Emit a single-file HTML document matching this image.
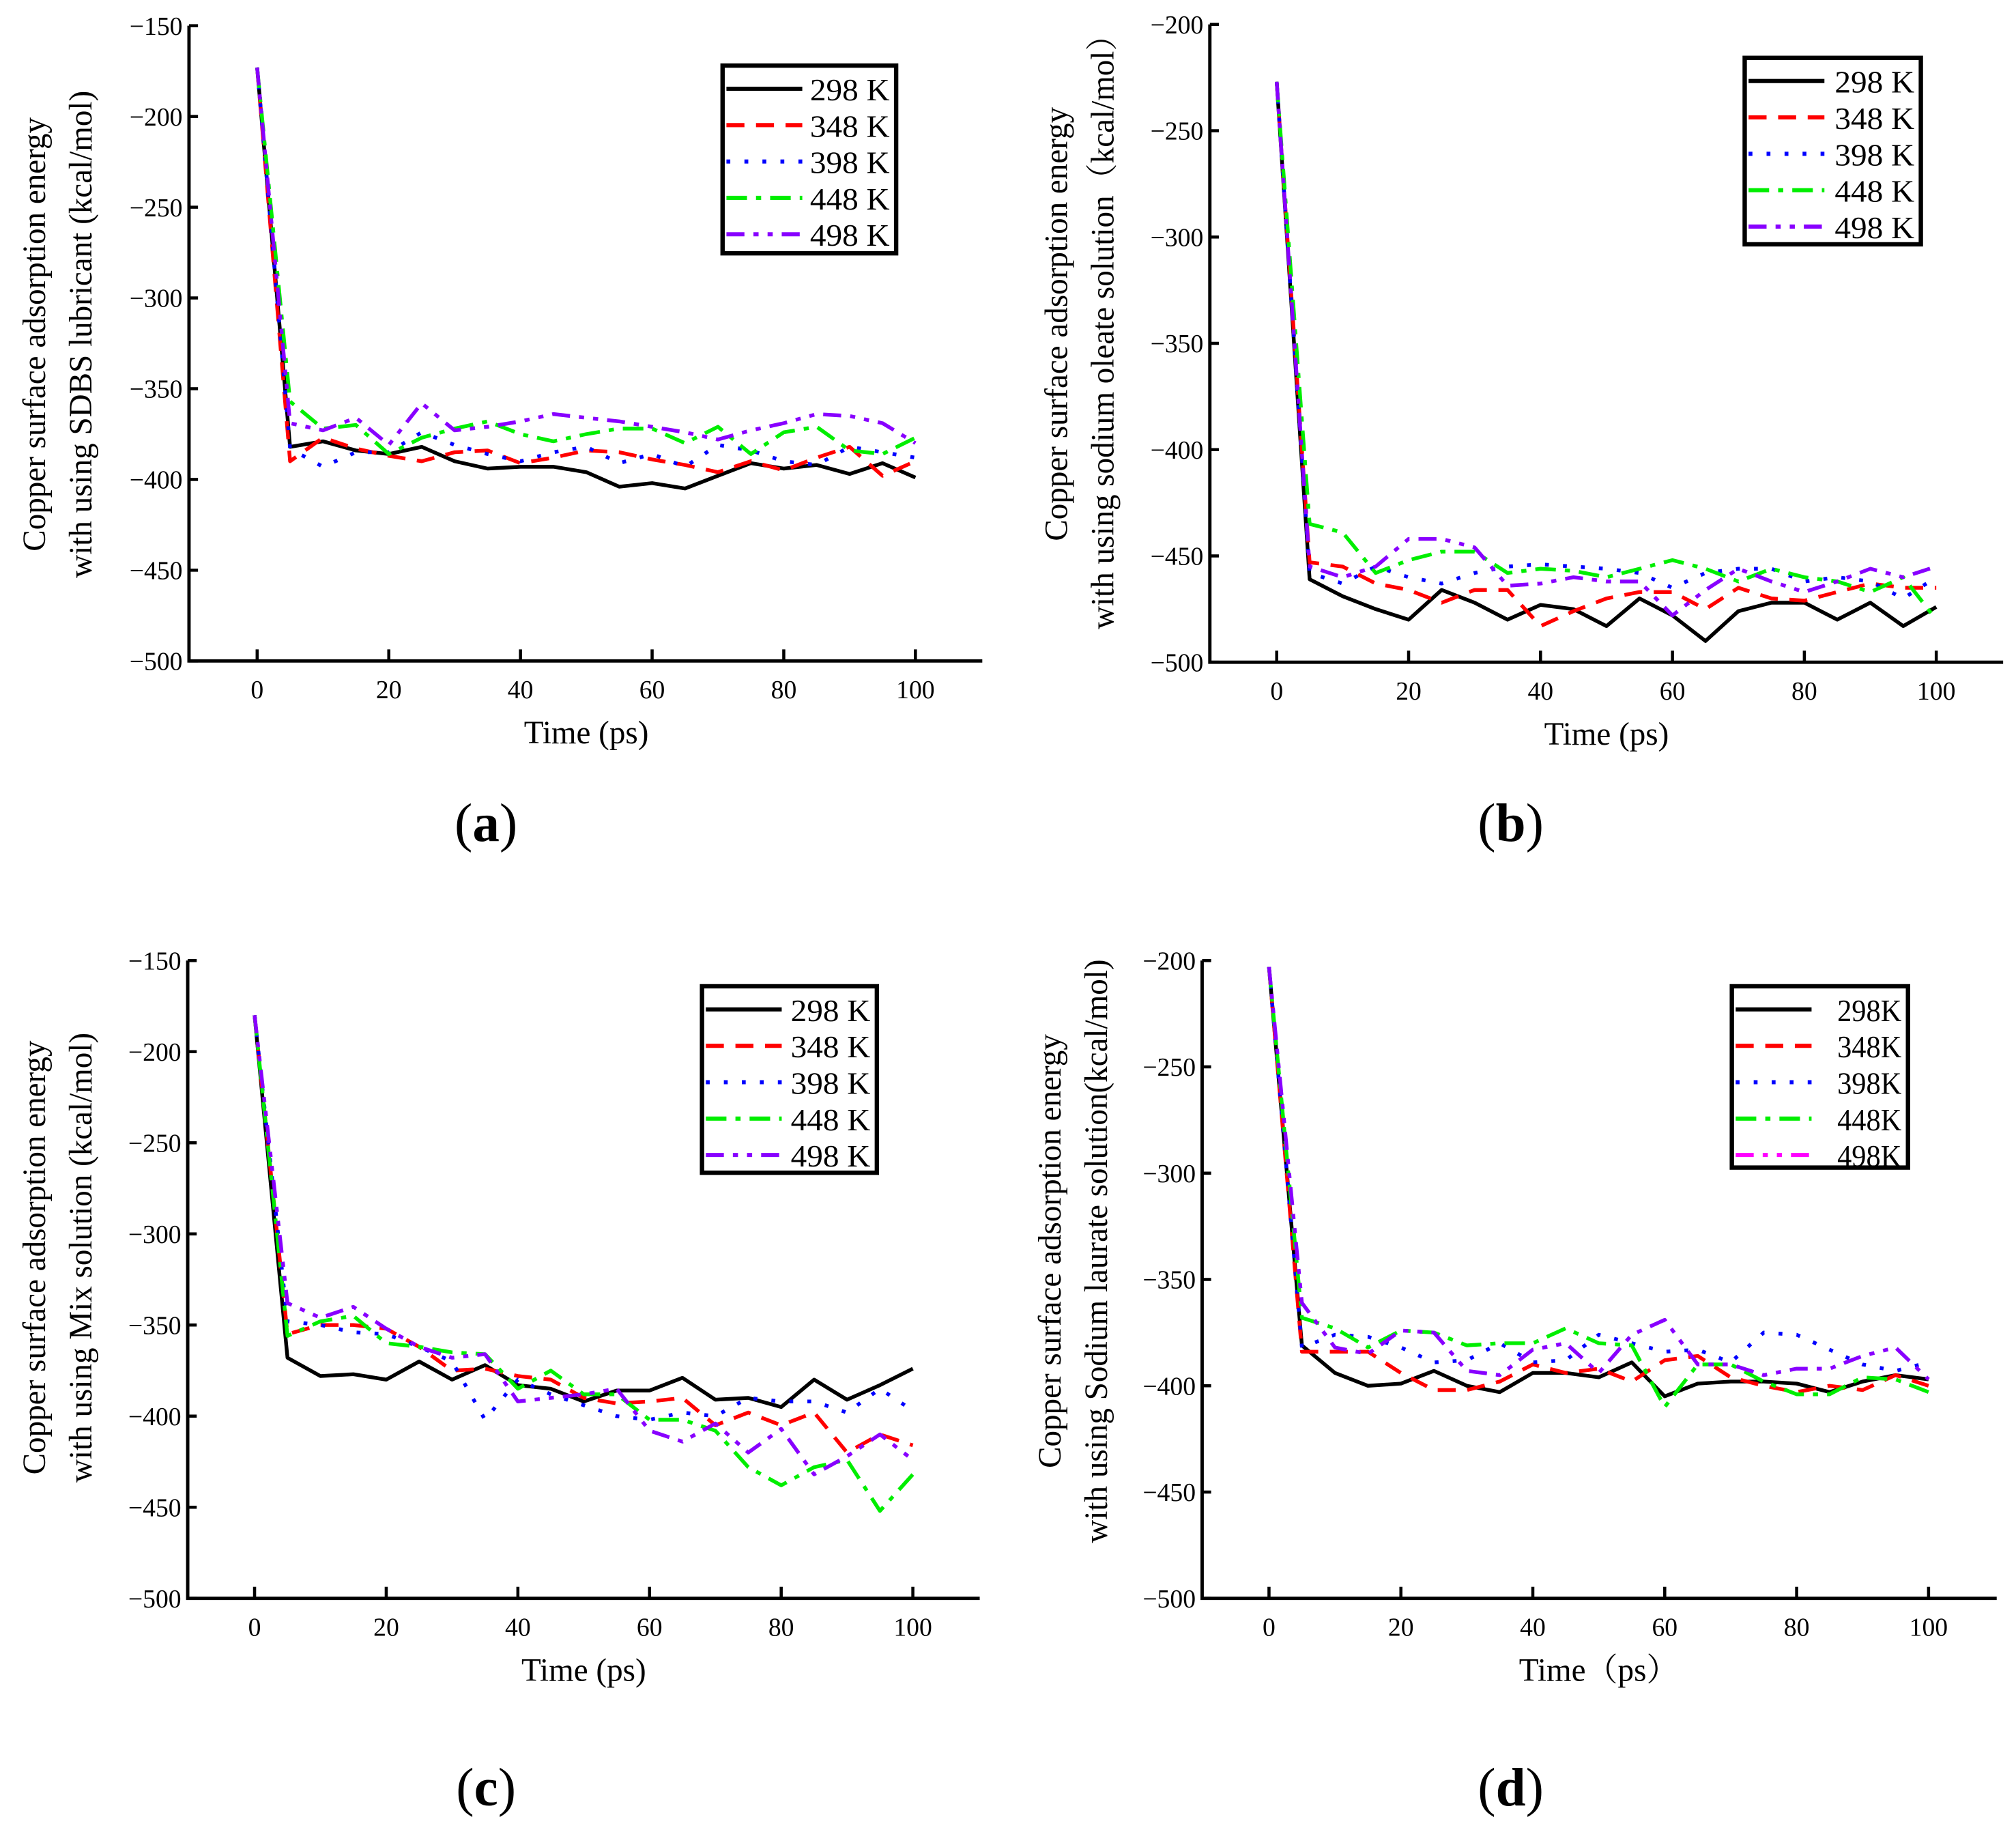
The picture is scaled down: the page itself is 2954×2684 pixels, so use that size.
<!DOCTYPE html>
<html><head><meta charset="utf-8"><style>
html,body{margin:0;padding:0;background:#fff}
svg{display:block}
text{font-family:"Liberation Serif","Noto Serif CJK SC",serif;fill:#000}
</style></head><body>
<svg id="fig" width="2954" height="2684" viewBox="0 0 1568 1424.7" xmlns="http://www.w3.org/2000/svg"></svg>
<script>
const times=[0,5,10,15,20,25,30,35,40,45,50,55,60,65,70,75,80,85,90,95,100];
const xTicks=[0,20,40,60,80,100];
const yTicksA=[-150,-200,-250,-300,-350,-400,-450,-500];
const yTicksB=[-200,-250,-300,-350,-400,-450,-500];
const legendA=["298 K","348 K","398 K","448 K","498 K"];
const legendD=["298K","348K","398K","448K","498K"];
const a298=[-173,-382,-379,-384,-386,-382,-390,-394,-393,-393,-396,-404,-402,-405,-398,-391,-394,-392,-397,-391,-399];
const a348=[-173,-390,-377,-383,-387,-390,-385,-384,-391,-388,-384,-385,-389,-392,-396,-390,-395,-388,-382,-398,-390];
const a398=[-173,-383,-393,-385,-385,-374,-381,-386,-390,-385,-382,-391,-386,-393,-381,-384,-390,-392,-382,-385,-388];
const a448=[-173,-357,-372,-370,-386,-377,-372,-368,-375,-379,-375,-372,-372,-380,-371,-386,-374,-371,-384,-386,-377];
const a498=[-173,-369,-373,-366,-381,-358,-373,-371,-368,-364,-366,-368,-371,-374,-378,-373,-369,-364,-365,-369,-380];
const b298=[-227,-461,-469,-475,-480,-466,-472,-480,-473,-475,-483,-470,-478,-490,-476,-472,-472,-480,-472,-483,-474];
const b348=[-227,-453,-455,-463,-466,-472,-466,-466,-483,-476,-470,-467,-467,-475,-465,-470,-471,-467,-463,-465,-465];
const b398=[-227,-458,-463,-455,-460,-463,-458,-455,-454,-455,-456,-458,-465,-458,-456,-456,-462,-460,-462,-470,-460];
const b448=[-227,-435,-439,-458,-452,-448,-448,-458,-456,-457,-460,-456,-452,-456,-462,-456,-460,-462,-467,-460,-480];
const b498=[-227,-455,-460,-455,-442,-442,-446,-464,-463,-460,-462,-462,-478,-466,-456,-462,-467,-462,-456,-460,-455];
const c298=[-180,-368,-378,-377,-380,-370,-380,-372,-383,-385,-392,-386,-386,-379,-391,-390,-395,-380,-391,-383,-374];
const c348=[-180,-355,-350,-350,-352,-362,-375,-374,-378,-380,-390,-393,-392,-390,-405,-398,-405,-398,-420,-410,-416];
const c398=[-180,-348,-350,-354,-355,-362,-370,-402,-380,-388,-394,-400,-402,-398,-400,-390,-392,-392,-398,-385,-397];
const c448=[-180,-356,-348,-345,-360,-362,-365,-366,-385,-375,-388,-388,-402,-402,-408,-428,-438,-428,-424,-452,-432];
const c498=[-180,-338,-346,-340,-352,-362,-368,-366,-392,-390,-388,-385,-408,-414,-404,-420,-407,-432,-422,-410,-424];
const d298=[-203,-381,-394,-400,-399,-393,-400,-403,-394,-394,-396,-389,-405,-399,-398,-398,-399,-403,-398,-395,-397];
const d348=[-203,-384,-384,-384,-394,-402,-402,-398,-390,-394,-392,-398,-388,-386,-396,-400,-403,-400,-402,-395,-400];
const d398=[-203,-382,-376,-377,-382,-389,-388,-380,-389,-388,-376,-380,-384,-383,-389,-375,-376,-383,-390,-393,-389];
const d448=[-203,-368,-373,-382,-374,-375,-381,-380,-380,-373,-380,-381,-410,-390,-390,-398,-404,-404,-396,-397,-403];
const d498=[-203,-361,-382,-385,-374,-375,-393,-395,-383,-380,-394,-376,-369,-390,-390,-395,-392,-392,-386,-382,-397];

const NS="http://www.w3.org/2000/svg";
const svg=document.getElementById('fig');
function mk(tag,attrs,parent){const e=document.createElementNS(NS,tag);for(const k in attrs)e.setAttribute(k,attrs[k]);(parent||svg).appendChild(e);return e;}
const styles=[
 {c:"#000",d:""},
 {c:"#ff0000",d:"14 9"},
 {c:"#0000ff",d:"3 11"},
 {c:"#00ee00",d:"16 7 4 7"},
 {c:"#8800ff",d:"14 7 4 7 4 7"}];

function panel(cfg){
  const g=mk('g',{});
  
  
  const x=t=>cfg.x0+(t-0)/100*(cfg.x100-cfg.x0);
  const y=v=>cfg.yTop+(v-cfg.vTop)/(-500-cfg.vTop)*(cfg.yBot-cfg.yTop);
  const ax=mk('path',{d:`M${cfg.ax} ${cfg.yTop} V${cfg.yBot} H${cfg.axEnd}`,fill:'none',stroke:'#000','stroke-width':2.6},g);
  
  
  cfg.yTicks.forEach(v=>{
    mk('line',{x1:cfg.ax,x2:cfg.ax+7,y1:y(v),y2:y(v),stroke:'#000','stroke-width':2.4},g);
    const t=mk('text',{x:cfg.ax-5,y:y(v)+7,'text-anchor':'end','font-size':20},g);
    t.textContent='\u2212'+Math.abs(v);
    
    
  });
  xTicks.forEach(v=>{
    mk('line',{x1:x(v),x2:x(v),y1:cfg.yBot,y2:cfg.yBot-9,stroke:'#000','stroke-width':2.4},g);
    const t=mk('text',{x:x(v),y:cfg.yBot+29,'text-anchor':'middle','font-size':20},g);
    t.textContent=v;
    
    
  });
  const xt=mk('text',{x:(cfg.x0+cfg.x100)/2,y:cfg.yBot+64,'text-anchor':'middle','font-size':25},g);
  xt.textContent=cfg.xTitle;
  
  
  cfg.yTitle.forEach((s,i)=>{
    const t=mk('text',{transform:`translate(${cfg.ytx+i*36},${cfg.yty}) rotate(-90)`,'text-anchor':'middle','font-size':25},g);
    t.textContent=s;
    
    
  });
  cfg.series.forEach((arr,i)=>{
    const p=mk('polyline',{points:arr.map((v,j)=>x(times[j]).toFixed(1)+','+y(v).toFixed(1)).join(' '),fill:'none',stroke:styles[i].c,'stroke-width':2.9,'stroke-dasharray':styles[i].d,'stroke-linejoin':'round'},g);
    
    
  });
  const L=cfg.leg;
  const box=mk('rect',{x:L.x,y:L.y,width:L.w,height:L.h,fill:'#fff',stroke:'#000','stroke-width':3.4},g);
  
  
  const cols=cfg.id==='d'?['#000','#ff0000','#0000ff','#00ee00','#ff00ff']:styles.map(s=>s.c);
  cfg.labels.forEach((lab,i)=>{
    const yy=L.y+18+i*28.3;
    mk('line',{x1:L.x+3,x2:L.x+62,y1:yy,y2:yy,stroke:cols[i],'stroke-width':3.2,'stroke-dasharray':styles[i].d},g);
    const t=mk('text',{x:L.x+L.w-5,y:yy+9,'text-anchor':'end','font-size':24,textLength:cfg.id==='d'?50:62,lengthAdjust:'spacingAndGlyphs'},g);
    t.textContent=lab;
    
    
  });
  const pl=mk('text',{x:cfg.plx,y:cfg.ply,'text-anchor':'middle','font-size':42},g);
  pl.innerHTML='(<tspan font-weight="bold">'+cfg.id+'</tspan>)';
  
  
}

panel({id:'a',ax:147,axEnd:764,x0:200,x100:712,yTop:20,yBot:514,vTop:-150,yTicks:yTicksA,
 xTitle:'Time (ps)',yTitle:['Copper surface adsorption energy','with using SDBS lubricant (kcal/mol)'],ytx:35,yty:260,
 series:[a298,a348,a398,a448,a498],labels:legendA,leg:{x:562,y:51,w:135,h:146},plx:378,ply:654});
panel({id:'b',ax:941,axEnd:1558,x0:993,x100:1506,yTop:19,yBot:515,vTop:-200,yTicks:yTicksB,
 xTitle:'Time (ps)',yTitle:['Copper surface adsorption energy','with using sodium oleate solution\uff08kcal/mol\uff09'],ytx:830,yty:252,
 series:[b298,b348,b398,b448,b498],labels:legendA,leg:{x:1357,y:45,w:137,h:145},plx:1175,ply:654});
panel({id:'c',ax:146,axEnd:762,x0:198,x100:710,yTop:747,yBot:1243,vTop:-150,yTicks:yTicksA,
 xTitle:'Time (ps)',yTitle:['Copper surface adsorption energy','with using Mix solution (kcal/mol)'],ytx:35,yty:978,
 series:[c298,c348,c398,c448,c498],labels:legendA,leg:{x:546,y:767,w:136,h:145},plx:378,ply:1404});
panel({id:'d',ax:935,axEnd:1553,x0:987,x100:1500,yTop:747,yBot:1243,vTop:-200,yTicks:yTicksB,
 xTitle:'Time\uff08ps\uff09',yTitle:['Copper surface adsorption energy','with using Sodium laurate solution(kcal/mol)'],ytx:825,yty:973,
 series:[d298,d348,d398,d448,d498],labels:legendD,leg:{x:1347,y:767,w:137,h:141},plx:1175,ply:1404});
</script>
</body></html>
